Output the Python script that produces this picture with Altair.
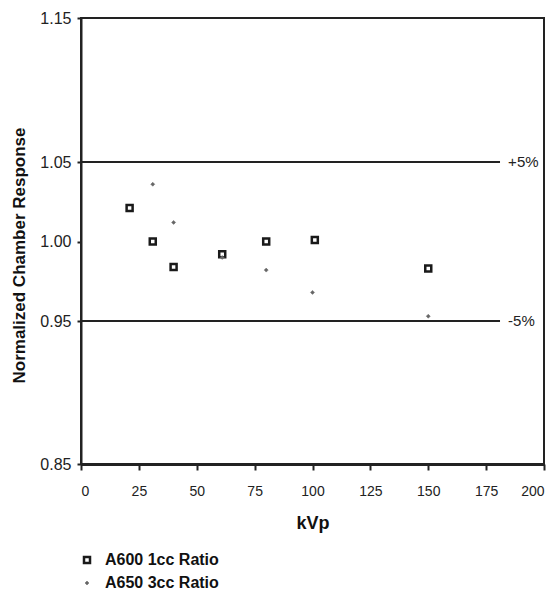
import altair as alt
import pandas as pd

series_names = ["A600 1cc Ratio", "A650 3cc Ratio"]
a600_kvp = [21, 31, 40, 61, 80, 101, 150]
a600_val = [1.021, 1.000, 0.984, 0.992, 1.000, 1.001, 0.983]
a650_kvp = [31, 40, 61, 80, 100, 150]
a650_val = [1.036, 1.012, 0.990, 0.982, 0.968, 0.953]

limit_vals = [1.05, 0.95]
limit_labels = ["+5%", "-5%"]
y_ticks = [0.85, 0.95, 1.00, 1.05, 1.15]
x_ticks = [0, 25, 50, 75, 100, 125, 150, 175, 200]

rows = []
for k, v in zip(a600_kvp, a600_val):
    rows.append({"kvp": k, "resp": v, "series": series_names[0]})
for k, v in zip(a650_kvp, a650_val):
    rows.append({"kvp": k, "resp": v, "series": series_names[1]})
pts = pd.DataFrame(rows)

lim = pd.DataFrame({"y": limit_vals, "label": limit_labels, "x0": [0, 0], "x1": [181, 181], "xt": [184.5, 184.5]})

FONT = "Liberation Sans"
W, H = 463, 446

xscale = alt.Scale(domain=[0, 200], nice=False, zero=False)
yscale = alt.Scale(domain=[0.85, 0.95, 1.05, 1.15], range=[H, 303, 144, 0], nice=False, zero=False)

xaxis = alt.Axis(values=x_ticks, title="kVp", grid=False, domainColor="#222", domainWidth=3,
                 tickColor="#222", tickWidth=2, tickSize=6, labelFont=FONT, labelFontSize=14,
                 labelColor="#222", labelPadding=14, titleFont=FONT, titleFontSize=18,
                 titleFontWeight="bold", titleColor="#111", titlePadding=16)
yaxis = alt.Axis(values=y_ticks, format=".2f", title="Normalized Chamber Response", grid=False,
                 domainColor="#222", domainWidth=2, tickColor="#222", tickWidth=2, tickSize=4,
                 labelFont=FONT, labelFontSize=16, labelColor="#222", labelPadding=6,
                 titleFont=FONT, titleFontSize=17, titleFontWeight="bold", titleColor="#111",
                 titlePadding=11, titleY=237)

sdom = series_names
points = alt.Chart(pts).mark_point(opacity=1).encode(
    x=alt.X("kvp:Q", scale=xscale, axis=xaxis),
    y=alt.Y("resp:Q", scale=yscale, axis=yaxis),
    shape=alt.Shape("series:N", scale=alt.Scale(domain=sdom, range=["square", "diamond"]), title=None),
    fill=alt.Fill("series:N", scale=alt.Scale(domain=sdom, range=["white", "#666666"]), title=None),
    stroke=alt.Stroke("series:N", scale=alt.Scale(domain=sdom, range=["#1a1a1a", "#666666"]), title=None),
    size=alt.Size("series:N", scale=alt.Scale(domain=sdom, range=[36, 16]), title=None),
    strokeWidth=alt.StrokeWidth("series:N", scale=alt.Scale(domain=sdom, range=[2.5, 0.5]), title=None),
)

rules = alt.Chart(lim).mark_rule(color="#222", strokeWidth=2).encode(
    x=alt.X("x0:Q", scale=xscale),
    x2="x1:Q",
    y=alt.Y("y:Q", scale=yscale),
)

texts = alt.Chart(lim).mark_text(align="left", baseline="middle", font=FONT, fontSize=15, color="#222").encode(
    x=alt.X("xt:Q", scale=xscale),
    y=alt.Y("y:Q", scale=yscale),
    text="label:N",
)

chart = alt.layer(rules, points, texts).properties(
    width=W, height=H,
    autosize=alt.AutoSizeParams(type="none"),
    padding={"left": 73, "top": 10, "right": 2, "bottom": 128},
).configure_view(
    stroke="#222", strokeWidth=2
).configure_legend(
    orient="none", legendX=-2, legendY=534, labelFont=FONT, labelFontSize=16,
    labelFontWeight="bold", labelColor="#111", rowPadding=7, labelOffset=10,
    symbolSize=36
)

chart.save("out.html", embed_options={"renderer": "svg", "actions": False})
